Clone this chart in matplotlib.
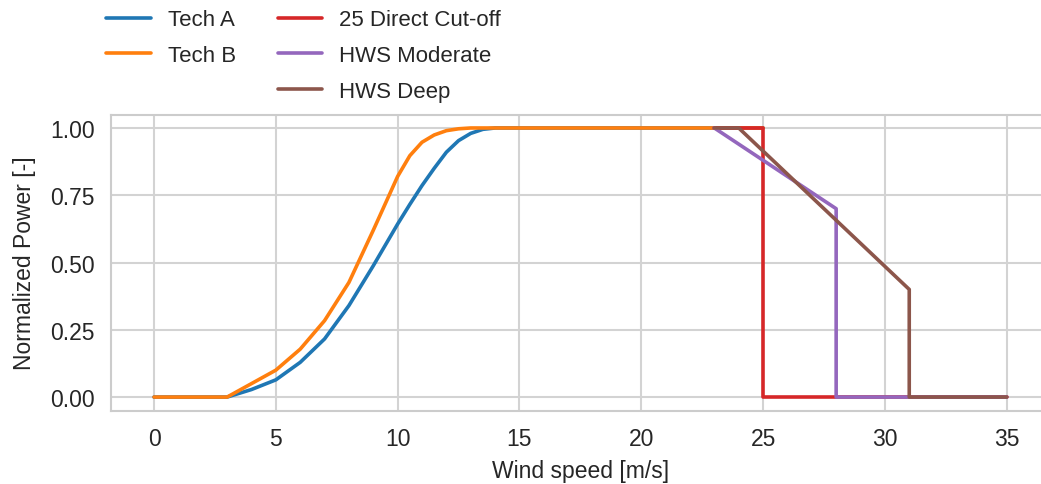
import numpy as np
import matplotlib
matplotlib.use("Agg")
import matplotlib.pyplot as plt
from matplotlib.lines import Line2D
import seaborn as sns

# power curves
wind = [0, 1, 2, 3, 4, 5, 6, 7, 8, 9, 10, 10.5, 11, 11.5, 12, 12.5, 13, 13.5, 14,
        15, 16, 17, 18, 19, 20, 21, 22, 23, 24, 25]
tech_a = [0, 0, 0, 0, 0.028, 0.064, 0.129, 0.216, 0.34, 0.488, 0.643, 0.716, 0.786,
          0.85, 0.91, 0.953, 0.98, 0.995, 1.0, 1, 1, 1, 1, 1, 1, 1, 1, 1, 1, 1]
tech_b = [0, 0, 0, 0, 0.05, 0.10, 0.178, 0.284, 0.426, 0.62, 0.82, 0.897, 0.947,
          0.974, 0.99, 0.997, 1.0, 1.0, 1.0, 1, 1, 1, 1, 1, 1, 1, 1, 1, 1, 1]

cut_x = [23, 25, 25, 35]
cut_y = [1.0, 1.0, 0.0, 0.0]
mod_x = [23, 28, 28, 35]
mod_y = [1.0, 0.7, 0.0, 0.0]
deep_x = [23, 24, 31, 31, 35]
deep_y = [1.0, 1.0, 0.4, 0.0, 0.0]

sns.set_style("whitegrid")
plt.rcParams['font.family'] = ['Liberation Sans', 'DejaVu Sans']
plt.rcParams['font.size'] = 16.5
plt.rcParams['axes.edgecolor'] = '#cccccc'
plt.rcParams['grid.color'] = '#d3d3d3'
plt.rcParams['grid.linewidth'] = 1.5
plt.rcParams['axes.linewidth'] = 1.5

fig = plt.figure(figsize=(10.41, 4.85), dpi=100)
ax = fig.add_axes([0.107, 0.1515, 0.901, 0.6103])

lw = 2.6
ax.plot(wind, tech_a, color='#1f77b4', lw=lw, label='Tech A')
ax.plot(wind, tech_b, color='#ff7f0e', lw=lw, label='Tech B')
ax.plot(cut_x, cut_y, color='#d62728', lw=lw, label='25 Direct Cut-off')
ax.plot(mod_x, mod_y, color='#9467bd', lw=lw, label='HWS Moderate')
ax.plot(deep_x, deep_y, color='#8c564b', lw=lw, label='HWS Deep')

ax.set_xticks([0, 5, 10, 15, 20, 25, 30, 35])
ax.set_yticks([0, 0.25, 0.5, 0.75, 1.0])
ax.set_yticklabels(['0.00', '0.25', '0.50', '0.75', '1.00'])
ax.tick_params(axis='both', length=0, pad=12, labelsize=16.5, labelcolor='#262626')
ax.set_xlabel('Wind speed [m/s]', fontsize=16.5, color='#262626', labelpad=6)
ax.set_ylabel('Normalized Power [-]', fontsize=16.5, color='#262626', labelpad=10)

handles, labels = ax.get_legend_handles_labels()
blank = Line2D([], [], color='none')
handles = handles[:2] + [blank] + handles[2:]
labels = labels[:2] + [''] + labels[2:]
fig.legend(handles, labels, loc='upper left', bbox_to_anchor=(0.083, 1.02), ncol=2,
           frameon=False, fontsize=16, handlelength=2.0, handletextpad=0.75,
           columnspacing=1.9, labelspacing=0.66)

fig.savefig('out.png', dpi=100)
